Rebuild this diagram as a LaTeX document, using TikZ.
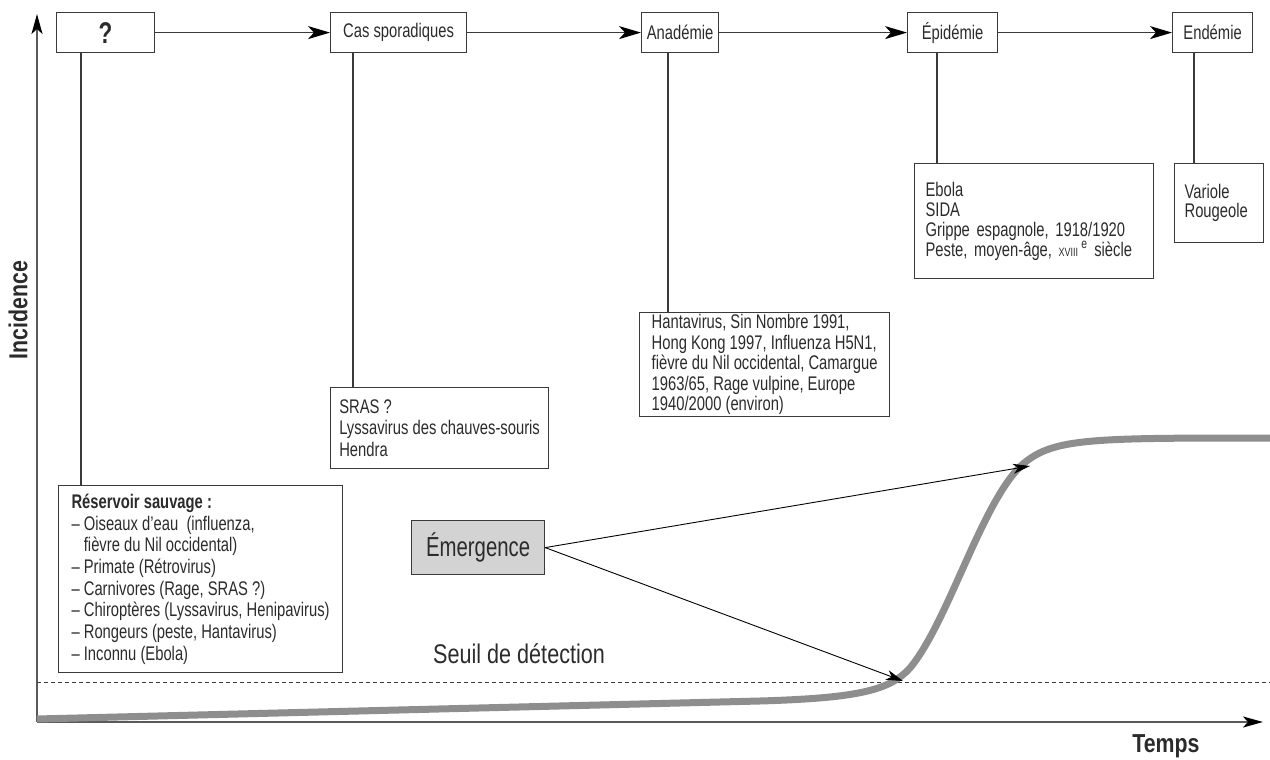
\documentclass[tikz,border=0pt]{standalone}
\usepackage{fontspec}
\setmainfont[FakeStretch=0.75]{Liberation Sans}
\newfontfamily\boldcond[FakeStretch=0.82]{Liberation Sans Bold}
\newfontfamily\emfont[FakeStretch=0.74]{Liberation Sans}
\newfontfamily\seuilfont[FakeStretch=0.8]{Liberation Sans}
\usetikzlibrary{arrows.meta}
\definecolor{txt}{HTML}{2B2B2B}
\definecolor{edge}{HTML}{3A3A3A}
\definecolor{curvegray}{HTML}{8E8E8E}
\definecolor{emfill}{HTML}{D3D3D3}
\definecolor{axisgray}{HTML}{5A5A5A}
\begin{document}
\begin{tikzpicture}[x=1pt,y=-1pt,
  stagebox/.style={draw=edge, line width=1.2pt, text=txt, font=\fontsize{19.7}{20}\selectfont,
     inner sep=0pt, anchor=north west, minimum height=40pt},
  listbox/.style={draw=edge, line width=1.2pt, text=txt, align=left, anchor=north west,
     inner ysep=0pt, inner xsep=0pt},
  toparrow/.style={draw=edge, line width=1.2pt, -{Stealth[length=22pt,width=13pt,inset=6pt,color=black]}},
  link/.style={draw=edge, line width=1.2pt},
  emarrow/.style={draw=black, line width=0.9pt, -{Stealth[length=17pt,width=10pt,inset=5pt]}},
  axis/.style={draw=axisgray, line width=2pt, -{Stealth[length=20pt,width=11pt,inset=5pt,color=black]}},
  axlabel/.style={text=txt, font=\boldcond\fontsize{26}{26}\selectfont, inner sep=0pt}
]
\useasboundingbox (0,0) rectangle (1270,760);

% axes
\coordinate (O) at (37,722);
\coordinate (ytip) at (37,14);
\coordinate (xtip) at (1263,722);
\draw[axis] (O) -- (ytip);
\draw[axis] (O) -- (xtip);
\node[axlabel, rotate=90] (inc) at (18,310) {Incidence};
\node[axlabel] (temps) at (1166,746) {Temps};

% threshold
\coordinate (dl) at (37,682);
\coordinate (dr) at (1270,682);
\draw[edge, line width=0.9pt, dash pattern=on 4pt off 3pt] (dl) -- (dr);
\node[anchor=base west, inner sep=0pt, text=txt, font=\seuilfont\fontsize{27}{27}\selectfont] (seuil) at (433,663) {Seuil de détection};

% curve
\draw[curvegray, line width=7pt] (37,719) -- (760,701)
  .. controls (860,698) and (890,690) .. (910,668)
  .. controls (950,620) and (985,490) .. (1028,460)
  .. controls (1058,438) and (1100,438) .. (1270,438);

% top row
\node[stagebox, minimum width=98pt, font=\bfseries\fontsize{30}{30}\selectfont] (q) at (56,12) {?};
\node[stagebox, minimum width=136pt] (cas) at (330,12) {Cas sporadiques};
\node[stagebox, minimum width=77pt] (ana) at (641,12) {Anadémie};
\node[stagebox, minimum width=90pt] (epi) at (907,12) {Épidémie};
\node[stagebox, minimum width=80pt] (end) at (1172,12) {Endémie};
\draw[toparrow] (q) -- (cas);
\draw[toparrow] (cas) -- (ana);
\draw[toparrow] (ana) -- (epi);
\draw[toparrow] (epi) -- (end);

% example boxes
\node[listbox, minimum width=284pt, minimum height=187pt,
      font=\fontsize{19.7}{21.7}\selectfont] (res) at (58,485)
 {\textbf{Réservoir sauvage :}\\
  – Oiseaux d’eau\ \ (influenza,\\
  \phantom{– }fièvre du Nil occidental)\\
  – Primate (Rétrovirus)\\
  – Carnivores (Rage, SRAS ?)\\
  – Chiroptères (Lyssavirus, Henipavirus)\\
  – Rongeurs (peste, Hantavirus)\\
  – Inconnu (Ebola)};
\node[listbox, minimum width=218pt, minimum height=81pt,
      font=\fontsize{19.7}{21.7}\selectfont] (sras) at (330,387)
 {SRAS ?\\ Lyssavirus des chauves-souris\\ Hendra};
\node[listbox, minimum width=250pt, minimum height=104pt,
      font=\fontsize{19.7}{20.5}\selectfont] (hanta) at (639,312)
 {Hantavirus, Sin Nombre 1991,\\ Hong Kong 1997, Influenza H5N1,\\ fièvre du Nil occidental, Camargue\\ 1963/65, Rage vulpine, Europe\\ 1940/2000 (environ)};
\node[listbox, text width=217pt, inner xsep=11pt, minimum height=115pt,
      font=\fontsize{19.7}{20}\selectfont] (ebola) at (914,163)
 {Ebola\\ SIDA\\ Grippe espagnole, 1918/1920\\ Peste, moyen-âge, {\fontsize{12}{12}\selectfont XVIII}\,\textsuperscript{e} siècle};
\node[listbox, text width=69pt, inner xsep=10pt, minimum height=79pt,
      font=\fontsize{19.7}{19.5}\selectfont] (vari) at (1174,163)
 {Variole\\ Rougeole};

% vertical links
\draw[link] ([xshift=25pt]q.south west) -- ([xshift=25pt]q.south west |- res.north);
\draw[link] ([xshift=23pt]cas.south west) -- ([xshift=23pt]cas.south west |- sras.north);
\draw[link] ([xshift=27pt]ana.south west) -- ([xshift=27pt]ana.south west |- hanta.north);
\draw[link] ([xshift=30pt]epi.south west) -- ([xshift=30pt]epi.south west |- ebola.north);
\draw[link] ([xshift=22pt]end.south west) -- ([xshift=22pt]end.south west |- vari.north);

% emergence
\node[draw=edge, line width=1.2pt, fill=emfill, text=txt, anchor=north west, inner sep=0pt,
      minimum width=133pt, minimum height=54pt, font=\emfont\fontsize{27.5}{28}\selectfont] (em) at (411,520) {Émergence};
\coordinate (hitTop) at (1030,466);
\coordinate (hitLow) at (903,681);
\draw[emarrow] (em.east) -- (hitTop);
\draw[emarrow] (em.east) -- (hitLow);
\end{tikzpicture}
\end{document}
